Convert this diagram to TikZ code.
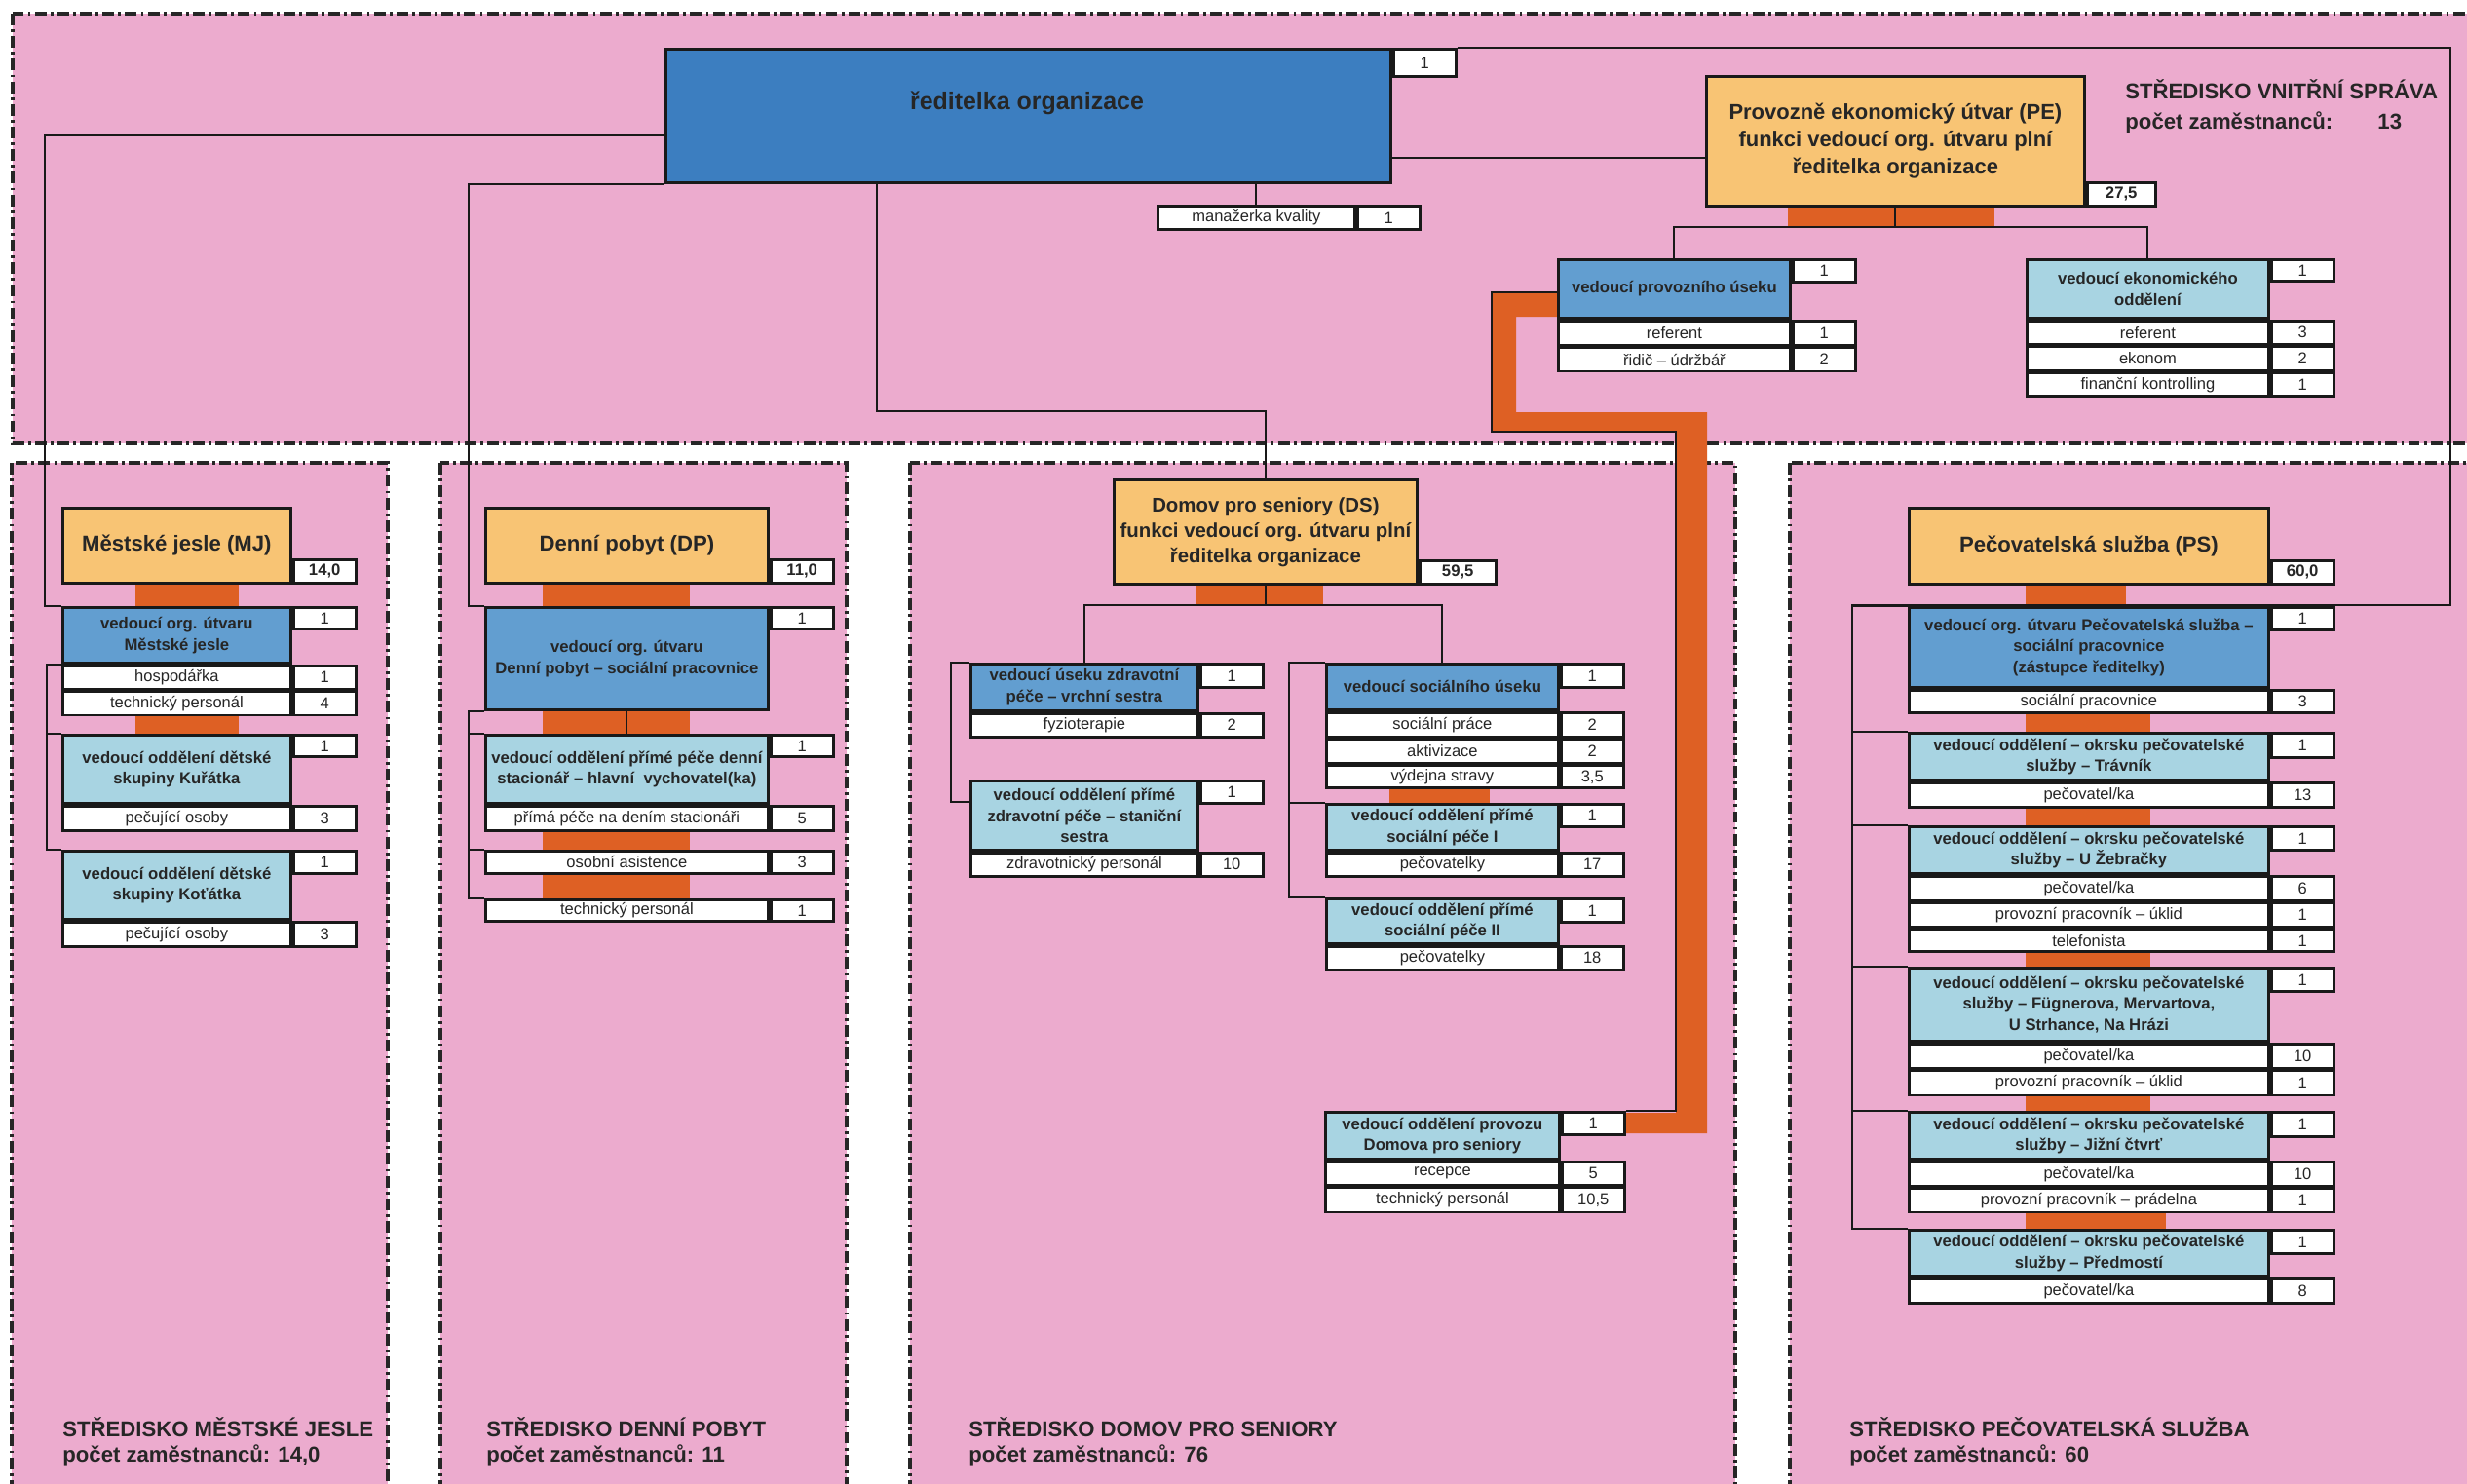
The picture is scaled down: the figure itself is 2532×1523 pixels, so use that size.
\documentclass[tikz,border=0pt]{standalone}
\usepackage{fontspec}
\setmainfont{Liberation Sans}

\definecolor{roseback}{RGB}{236,171,206}
\definecolor{dirblue}{RGB}{60,126,192}
\definecolor{midblue}{RGB}{98,158,208}
\definecolor{lightblue}{RGB}{168,212,226}
\definecolor{headorange}{RGB}{248,196,116}
\definecolor{barorange}{RGB}{222,96,36}

\newcommand{\orgcell}{\fontsize{4.7}{5.5}\selectfont}
\newcommand{\orglead}{\fontsize{4.75}{6.2}\selectfont\bfseries}
\newcommand{\orghead}{\fontsize{6.3}{7.4}\selectfont\bfseries}
\newcommand{\orgds}{\fontsize{5.8}{7.4}\selectfont\bfseries}
\newcommand{\orgpe}{\fontsize{6.25}{8}\selectfont\bfseries}
\newcommand{\orgdir}{\fontsize{7.1}{8}\selectfont\bfseries}
\newcommand{\orghcnt}{\fontsize{4.75}{5.5}\selectfont\bfseries}
\newcommand{\orgnote}{\fontsize{6.3}{7}\selectfont\bfseries}

% box with its head count: name, at, width, height, style, text, count, count height
\newcommand{\post}[8]{%
  \node[#5, minimum width=#3*0.1mm, minimum height=#4*0.1mm] (#1) at (#2) {#6};
  \node[cnt, minimum height=#8*0.1mm] (#1n) at (#1.north east) {#7};}
% staff row: name, at, width, height, text, count
\newcommand{\staff}[6]{%
  \node[cell, minimum width=#3*0.1mm, minimum height=#4*0.1mm] (#1) at (#2) {#5};
  \node[cnt, minimum height=#4*0.1mm] (#1n) at (#1.north east) {#6};}

\begin{document}
\begin{tikzpicture}[x=0.1mm, y=-0.1mm,
  region/.style={fill=roseback, draw=black!85, line width=0.9pt,
    dash pattern=on 3.4pt off 1.2pt on 0.8pt off 1.2pt},
  box/.style={draw=black!90, line width=0.8pt, anchor=north west, inner sep=0pt,
    align=center, text=black!85},
  head/.style={box, fill=headorange, font=\orghead},
  lead/.style={box, fill=midblue, font=\orglead},
  sublead/.style={box, fill=lightblue, font=\orglead},
  cell/.style={box, fill=white, font=\orgcell},
  cnt/.style={cell, minimum width=6.4mm},
  hcnt/.style={box, fill=white, anchor=south west, font=\orghcnt,
    minimum width=6.4mm, minimum height=2.4mm},
  link/.style={draw=black!90, line width=0.6pt},
  bar/.style={fill=barorange},
  note/.style={anchor=base west, font=\orgnote, text=black!85}]

  \useasboundingbox (0,0) rectangle (2532,1523);
  \clip (0,0) rectangle (2532,1523);
  \fill[white] (0,0) rectangle (2532,1523);

  % centres
  \draw[region] (13,14) rectangle (2570,455);
  \draw[region] (12,475) rectangle (398,1570);
  \draw[region] (452,475) rectangle (869,1570);
  \draw[region] (934,475) rectangle (1781,1570);
  \draw[region] (1837,475) rectangle (2570,1570);

  % orange bars
  \foreach \xa/\ya/\xb/\yb in {1835/210/2047/233, 139/597/245/622, 139/727/245/753,
      557/597/708/622, 557/727/708/753, 557/848/708/872, 557/895/708/922,
      1228/598/1358/621, 1426/799/1529/824, 2079/598/2182/622, 2079/727/2207/751,
      2079/824/2207/847, 2079/967/2207/992, 2079/1117/2207/1140, 2079/1237/2223/1261}
    \fill[bar] (\xa,\ya) rectangle (\xb,\yb);
  \fill[bar] (1598,300) -- (1531,300) -- (1531,443) -- (1720,443) -- (1720,1142)
    -- (1662,1142) -- (1662,1163) -- (1752,1163) -- (1752,423) -- (1556,423)
    -- (1556,325) -- (1598,325) -- cycle;

  % vnitrni sprava
  \post{dir}{682,49}{744}{137}{box, fill=dirblue}{}{1}{28}
  \node[font=\orgdir, text=black!85] (dirname) at (1054,106) {ředitelka organizace};
  \staff{mk}{1187,210}{202}{24}{manažerka kvality}{1}
  \node[head, font=\orgpe, minimum width=38.8mm, minimum height=13.3mm] (pe) at (1750,77)
    {Provozně ekonomický útvar (PE)\\funkci vedoucí org. útvaru plní\\ředitelka organizace};
  \node[hcnt, minimum width=7mm] (pen) at (pe.south east) {27,5};
  \post{vpu}{1598,265}{238}{60}{lead}{vedoucí provozního úseku}{1}{23}
  \staff{vpu1}{vpu.south west}{238}{25}{referent}{1}
  \staff{vpu2}{vpu1.south west}{238}{24}{řidič – údržbář}{2}
  \post{veo}{2079,265}{248}{60}{sublead}{vedoucí ekonomického\\oddělení}{1}{22}
  \staff{veo1}{veo.south west}{248}{24}{referent}{3}
  \staff{veo2}{veo1.south west}{248}{24}{ekonom}{2}
  \staff{veo3}{veo2.south west}{248}{24}{finanční kontrolling}{1}
  \node[note] (vsname) at (2169,102) {STŘEDISKO VNITŘNÍ SPRÁVA};
  \node[note] (vscount) at (2169,133) {počet zaměstnanců:};
  \node[note] (vsnum) at (2428,133) {13};

  % mestske jesle
  \node[head, minimum width=23.4mm, minimum height=7.7mm] (mjh) at (63,520) {Městské jesle (MJ)};
  \node[hcnt] (mjhn) at (mjh.south east) {14,0};
  \post{mja}{63,622}{234}{57}{lead}{vedoucí org. útvaru\\Městské jesle}{1}{22}
  \staff{mja1}{mja.south west}{234}{24}{hospodářka}{1}
  \staff{mja2}{mja1.south west}{234}{24}{technický personál}{4}
  \post{mjb}{63,753}{234}{70}{sublead}{vedoucí oddělení dětské\\skupiny Kuřátka}{1}{22}
  \staff{mjb1}{mjb.south west}{234}{25}{pečující osoby}{3}
  \post{mjc}{63,872}{234}{70}{sublead}{vedoucí oddělení dětské\\skupiny Koťátka}{1}{23}
  \staff{mjc1}{mjc.south west}{234}{25}{pečující osoby}{3}
  \node[note] (mjnote) at (52,1474) {STŘEDISKO MĚSTSKÉ JESLE};
  \node[note] (mjsum) at (52,1500) {počet zaměstnanců: 14,0};

  % denni pobyt
  \node[head, minimum width=29mm, minimum height=7.7mm] (dph) at (497,520) {Denní pobyt (DP)};
  \node[hcnt] (dphn) at (dph.south east) {11,0};
  \post{dpa}{497,622}{290}{105}{lead}{vedoucí org. útvaru\\Denní pobyt – sociální pracovnice}{1}{22}
  \post{dpb}{497,753}{290}{70}{sublead}{vedoucí oddělení přímé péče denní\\stacionář – hlavní\ \ vychovatel(ka)}{1}{22}
  \staff{dpb1}{dpb.south west}{290}{25}{přímá péče na dením stacionáři}{5}
  \staff{dpc}{497,872}{290}{23}{osobní asistence}{3}
  \staff{dpd}{497,922}{290}{22}{technický personál}{1}
  \node[note] (dpnote) at (487,1474) {STŘEDISKO DENNÍ POBYT};
  \node[note] (dpsum) at (487,1500) {počet zaměstnanců: 11};

  % domov pro seniory
  \node[head, font=\orgds, minimum width=31.1mm, minimum height=10.7mm] (dsh) at (1142,491)
    {Domov pro seniory (DS)\\funkci vedoucí org. útvaru plní\\ředitelka organizace};
  \node[hcnt, minimum width=7.8mm] (dshn) at (dsh.south east) {59,5};
  \post{dsa}{995,680}{233}{48}{lead}{vedoucí úseku zdravotní\\péče – vrchní sestra}{1}{24}
  \staff{dsa1}{dsa.south west}{233}{24}{fyzioterapie}{2}
  \post{dsb}{995,800}{233}{71}{sublead}{vedoucí oddělení přímé\\zdravotní péče – staniční\\sestra}{1}{23}
  \staff{dsb1}{dsb.south west}{233}{24}{zdravotnický personál}{10}
  \post{dsc}{1360,680}{238}{47}{lead}{vedoucí sociálního úseku}{1}{24}
  \staff{dsc1}{dsc.south west}{238}{25}{sociální práce}{2}
  \staff{dsc2}{dsc1.south west}{238}{24}{aktivizace}{2}
  \staff{dsc3}{dsc2.south west}{238}{23}{výdejna stravy}{3,5}
  \post{dsd}{1360,824}{238}{47}{sublead}{vedoucí oddělení přímé\\sociální péče I}{1}{23}
  \staff{dsd1}{dsd.south west}{238}{24}{pečovatelky}{17}
  \post{dse}{1360,921}{238}{46}{sublead}{vedoucí oddělení přímé\\sociální péče II}{1}{24}
  \staff{dse1}{dse.south west}{238}{24}{pečovatelky}{18}
  \post{dsf}{1359,1140}{240}{48}{sublead}{vedoucí oddělení provozu\\Domova pro seniory}{1}{23}
  \staff{dsf1}{dsf.south west}{240}{24}{recepce}{5}
  \staff{dsf2}{dsf1.south west}{240}{25}{technický personál}{10,5}
  \node[note] (dsnote) at (982,1474) {STŘEDISKO DOMOV PRO SENIORY};
  \node[note] (dssum) at (982,1500) {počet zaměstnanců: 76};

  % pecovatelska sluzba
  \node[head, minimum width=36.9mm, minimum height=7.8mm] (psh) at (1958,520) {Pečovatelská služba (PS)};
  \node[hcnt] (pshn) at (psh.south east) {60,0};
  \post{psa}{1958,622}{369}{82}{lead}{vedoucí org. útvaru Pečovatelská služba –\\sociální pracovnice\\(zástupce ředitelky)}{1}{23}
  \staff{psa1}{psa.south west}{369}{23}{sociální pracovnice}{3}
  \post{psb}{1958,751}{369}{48}{sublead}{vedoucí oddělení – okrsku pečovatelské\\služby – Trávník}{1}{25}
  \staff{psb1}{psb.south west}{369}{25}{pečovatel/ka}{13}
  \post{psc}{1958,847}{369}{48}{sublead}{vedoucí oddělení – okrsku pečovatelské\\služby – U Žebračky}{1}{24}
  \staff{psc1}{psc.south west}{369}{25}{pečovatel/ka}{6}
  \staff{psc2}{psc1.south west}{369}{24}{provozní pracovník – úklid}{1}
  \staff{psc3}{psc2.south west}{369}{23}{telefonista}{1}
  \post{psd}{1958,992}{369}{75}{sublead}{vedoucí oddělení – okrsku pečovatelské\\služby – Fügnerova, Mervartova,\\U Strhance, Na Hrázi}{1}{24}
  \staff{psd1}{psd.south west}{369}{25}{pečovatel/ka}{10}
  \staff{psd2}{psd1.south west}{369}{25}{provozní pracovník – úklid}{1}
  \post{pse}{1958,1140}{369}{48}{sublead}{vedoucí oddělení – okrsku pečovatelské\\služby – Jižní čtvrť}{1}{25}
  \staff{pse1}{pse.south west}{369}{25}{pečovatel/ka}{10}
  \staff{pse2}{pse1.south west}{369}{24}{provozní pracovník – prádelna}{1}
  \post{psf}{1958,1261}{369}{47}{sublead}{vedoucí oddělení – okrsku pečovatelské\\služby – Předmostí}{1}{24}
  \staff{psf1}{psf.south west}{369}{25}{pečovatel/ka}{8}
  \node[note] (psnote) at (1886,1474) {STŘEDISKO PEČOVATELSKÁ SLUŽBA};
  \node[note] (pssum) at (1886,1500) {počet zaměstnanců: 60};

  % links from the director
  \draw[link] (dir.west |- 0,139) -| (46,622) -- (mja.north west);
  \draw[link] (dir.south west) -| (481,622) -- (dpa.north west);
  \draw[link] (dir.south -| 900,0) |- (dsh.north |- 0,422) -- (dsh.north);
  \draw[link] (mk.north) -- (mk.north |- dir.south);
  \draw[link] (dir.east |- 0,162) -- (pe.west |- 0,162);
  \draw[link] (dirn.north east) -| (2515,621) -| (1901,1261) -- (psf.north west);
  \foreach \p in {psa,psb,psc,psd,pse}
    \draw[link] (1901,0 |- \p.north west) -- (\p.north west);

  % links inside the centres
  \draw[link] (pe.south) -- (pe.south |- 0,233);
  \draw[link] (vpu.north) |- (veo.north |- 0,233) -- (veo.north);
  \draw[link] (vpu.west |- 0,300) -| (1531,443) -| (1720,1140) -- (dsfn.north east);
  \draw[link] (mja.south west) -- ++(-15,0) |- (mjc.north west);
  \draw[link] (mjb.north west) -- ++(-15,0);
  \draw[link] (dpa.south west) -- ++(-16,0) |- (dpd.north west);
  \foreach \p in {dpb,dpc}
    \draw[link] (\p.north west) -- ++(-16,0);
  \draw[link] (dpa.south) -- (dpb.north);
  \draw[link] (dsh.south) -- (dsh.south |- 0,621);
  \draw[link] (dsa.north) |- (dsc.north |- 0,621) -- (dsc.north);
  \draw[link] (dsa.north west) -- ++(-19,0) |- ([yshift=-2.3mm]dsb.north west);
  \draw[link] (dsc.north west) -- ++(-37,0) |- (dse.north west);
  \draw[link] (dsd.north west) -- ++(-37,0);
\end{tikzpicture}
\end{document}
